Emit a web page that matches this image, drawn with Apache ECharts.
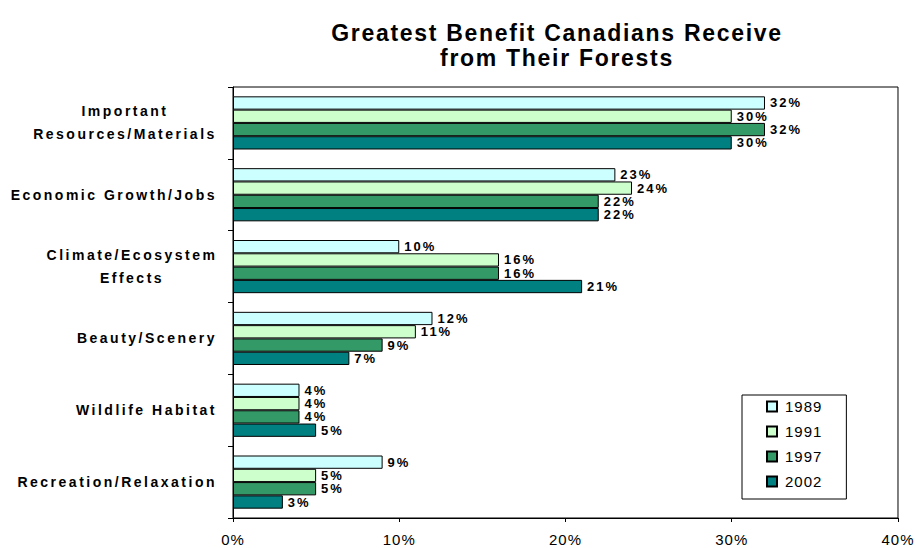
<!DOCTYPE html>
<html>
<head>
<meta charset="utf-8">
<script src="https://cdn.jsdelivr.net/npm/echarts@6/dist/echarts.min.js"></script>
<style>
  html, body { margin: 0; padding: 0; background: #fff; }
  #chart { width: 916px; height: 548px; }
  /* wide tracking per text size */
  #chart svg text[style*="23px"] { letter-spacing: 1.7px; }
  #chart svg text[style*="14px"] { letter-spacing: 2.5px; }
  #chart svg text[style*="13px"] { letter-spacing: 2px; }
  #chart svg text[style*="15px"] { letter-spacing: 1px; }
</style>
</head>
<body>
<div id="chart"></div>
<script>
// Benefit categories, top to bottom
const categories = [
  'Important\nResources/Materials',
  'Economic Growth/Jobs',
  'Climate/Ecosystem\nEffects',
  'Beauty/Scenery',
  'Wildlife Habitat',
  'Recreation/Relaxation'
];
const years = ['1989', '1991', '1997', '2002'];
// Percent of respondents per survey year
const values1989 = [32, 23, 10, 12, 4, 9];
const values1991 = [30, 24, 16, 11, 4, 5];
const values1997 = [32, 22, 16, 9, 4, 5];
const values2002 = [30, 22, 21, 7, 5, 3];
const xTicks = [0, 10, 20, 30, 40];

const seriesValues = [values1989, values1991, values1997, values2002];
const colors = ['#CCFFFF', '#CCFFCC', '#339966', '#008080'];
const font = 'Arial, "Liberation Sans", Helvetica, sans-serif';

const chart = echarts.init(document.getElementById('chart'), null, { renderer: 'svg' });

// Two-line labels are centred over their longest line
function catLabel(value) {
  const lines = value.split('\n');
  if (lines.length === 1) return '{a|' + value + '}';
  const tag = value.indexOf('Important') === 0 ? 'w' : 'n';
  return lines.map(l => '{' + tag + '|' + l + '}').join('\n');
}

const catText = { fontFamily: font, fontSize: 14, fontWeight: 'bold', color: '#000', lineHeight: 23 };

chart.setOption({
  animation: false,
  backgroundColor: '#fff',
  title: {
    text: 'Greatest Benefit Canadians Receive\nfrom Their Forests',
    left: 552,
    textAlign: 'center',
    top: 15,
    textStyle: {
      fontFamily: font, fontSize: 23, fontWeight: 'bold', color: '#000', lineHeight: 25
    }
  },
  legend: {
    data: years,
    orient: 'vertical',
    left: 742,
    top: 395,
    padding: [4, 28, 10, 24],
    itemGap: 10,
    itemWidth: 10,
    itemHeight: 10,
    borderColor: '#000',
    borderWidth: 1,
    icon: 'rect',
    textStyle: { fontFamily: font, fontSize: 15, lineHeight: 15, color: '#000', padding: [0, 0, 0, 3] }
  },
  grid: {
    left: 233, right: 17, top: 87, bottom: 30,
    show: true, borderColor: '#000', borderWidth: 1,
    containLabel: false
  },
  xAxis: {
    type: 'value',
    min: xTicks[0],
    max: xTicks[xTicks.length - 1],
    interval: 10,
    splitLine: { show: false },
    axisLine: { show: true, lineStyle: { color: '#000', width: 1 } },
    axisTick: { show: true, length: 4, lineStyle: { color: '#000' } },
    axisLabel: {
      formatter: '{value}%', fontFamily: font, fontSize: 15, color: '#000', margin: 14
    }
  },
  yAxis: {
    type: 'category',
    data: categories,
    inverse: true,
    axisLine: { show: true, lineStyle: { color: '#000', width: 1 } },
    axisTick: { show: true, length: 5, lineStyle: { color: '#000' } },
    axisLabel: {
      margin: 16,
      formatter: catLabel,
      fontFamily: font, fontSize: 14, fontWeight: 'bold', color: '#000',
      rich: {
        a: catText,
        w: Object.assign({ width: 184, align: 'center' }, catText),
        n: Object.assign({ width: 170, align: 'center' }, catText)
      }
    }
  },
  series: seriesValues.map((vals, i) => ({
    name: years[i],
    type: 'bar',
    data: vals,
    barGap: '0%',
    barCategoryGap: '26%',
    itemStyle: { color: colors[i], borderColor: '#000', borderWidth: 1 },
    label: {
      show: true,
      position: 'right',
      distance: 5,
      formatter: '{c}%',
      fontFamily: font, fontSize: 13, fontWeight: 'bold', color: '#000'
    }
  }))
});
</script>
</body>
</html>
